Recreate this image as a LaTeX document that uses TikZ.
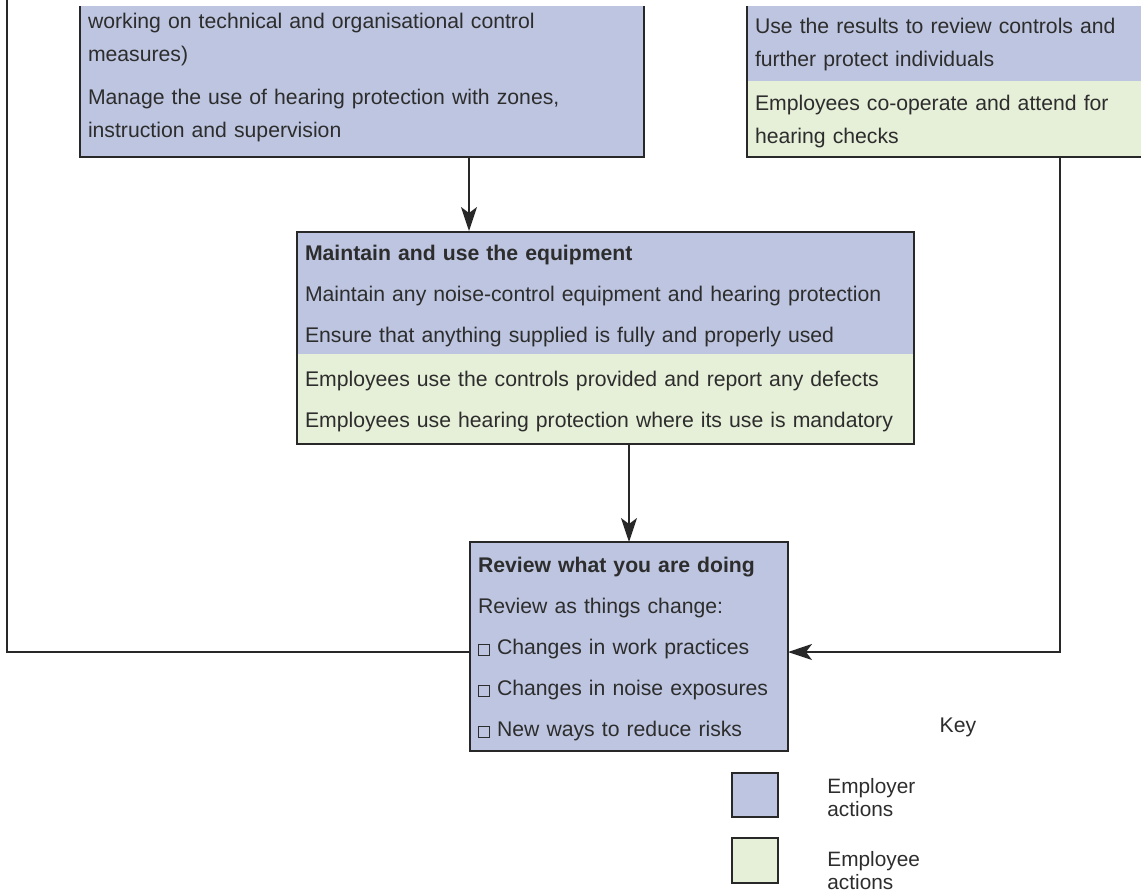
\documentclass[tikz,border=0pt]{standalone}
\usepackage{fontspec}
\setmainfont{Liberation Sans}
\usetikzlibrary{positioning, fit, arrows.meta}
\definecolor{employerblue}{RGB}{189,197,224}
\definecolor{employeegreen}{RGB}{230,239,215}
\definecolor{edgegray}{RGB}{40,40,40}
\definecolor{textgray}{RGB}{45,45,45}
\newcommand{\lnstrut}{\rule[-1.7pt]{0pt}{12.3pt}}
\newcommand{\tickbox}{{\setlength{\fboxsep}{0pt}\setlength{\fboxrule}{0.5pt}\fbox{\rule{0pt}{5pt}\rule{5pt}{0pt}}}}
\tikzstyle{section} = [rectangle, inner xsep=4pt, inner ysep=0pt, outer sep=0pt, align=left, text=textgray, font=\fontsize{10.6}{16.5}\selectfont, execute at begin node=\lnstrut, execute at end node=\lnstrut]
\tikzstyle{employer} = [section, fill=employerblue]
\tikzstyle{employee} = [section, fill=employeegreen]
\tikzstyle{framed} = [draw=edgegray, line width=1pt]
\tikzstyle{frame} = [framed, inner sep=0pt]
\tikzstyle{arrow} = [draw=edgegray, line width=0.8pt, -{Stealth[length=12pt, width=8pt, inset=3pt]}]
\tikzstyle{link} = [draw=edgegray, line width=0.8pt]
\tikzstyle{keylabel} = [align=left, inner sep=0pt, text=textgray, font=\fontsize{10.4}{11.5}\selectfont]

\begin{document}
\begin{tikzpicture}[x=0.5pt, y=-0.5pt]
    \path [use as bounding box, clip] (0,0) rectangle (1141,895);
    \begin{scope}
    \clip (0,6) rectangle (1141,895);
    \node [employer, framed, text width=274pt, minimum height=82.5pt, anchor=south west] at (80,157) (plan) {working on technical and organisational control\\ measures)\\[5pt] Manage the use of hearing protection with zones,\\ instruction and supervision};
    \node [employer, text width=198.5pt, minimum height=39.5pt, anchor=south west] at (747,81) (checkE) {Use the results to review controls and\\ further protect individuals};
    \node [employee, text width=198.5pt, minimum height=38pt, below=0pt of checkE] (checkW) {Employees co-operate and attend for\\ hearing checks};
    \node [frame, fit=(checkE)(checkW)] (check) {};
    \end{scope}
    \node [employer, text width=300.5pt, minimum height=61pt, anchor=north west] at (297,232) (maintE) {\textbf{Maintain and use the equipment}\\[4pt] Maintain any noise-control equipment and hearing protection\\[4pt] Ensure that anything supplied is fully and properly used};
    \node [employee, text width=300.5pt, minimum height=45pt, below=0pt of maintE] (maintW) {Employees use the controls provided and report any defects\\[4pt] Employees use hearing protection where its use is mandatory};
    \node [frame, fit=(maintE)(maintW)] (maint) {};
    \node [employer, framed, text width=151pt, minimum height=104.5pt, anchor=north west] at (470,542) (review) {\textbf{Review what you are doing}\\[4pt] Review as things change:\\[4pt] \tickbox\ Changes in work practices\\[4pt] \tickbox\ Changes in noise exposures\\[4pt] \tickbox\ New ways to reduce risks};
    \node [section] at (958,724) (key) {Key};
    \node [employer, framed, minimum width=23pt, minimum height=22pt, anchor=north west] at (732,773) (keyE) {};
    \node [employee, framed, minimum width=23pt, minimum height=22.5pt, anchor=north west] at (732,838) (keyW) {};
    \node [keylabel, anchor=west] at (827,798) (keyEtext) {Employer\\actions};
    \node [keylabel, anchor=west] at (827,871) (keyWtext) {Employee\\actions};
    \coordinate (loopback) at (7,0);
    \coordinate (feedin) at (0,652);
    \draw [arrow] (plan.south -| 469,0) -- (469,0 |- maint.north);
    \draw [arrow] (maint.south -| review.north) -- (review.north);
    \draw [arrow] (check.south -| 1060,0) |- (review.east |- feedin);
    \draw [link] (loopback) |- (review.west |- feedin);
\end{tikzpicture}
\end{document}
